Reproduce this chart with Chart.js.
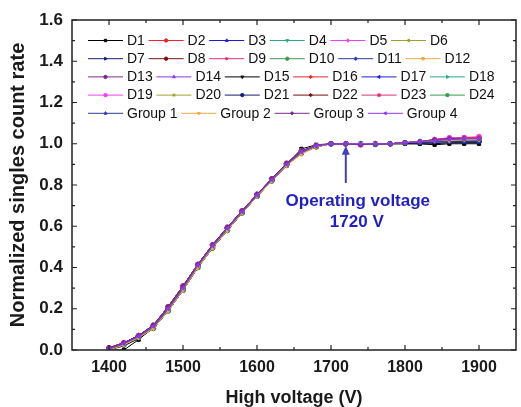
<!DOCTYPE html>
<html>
<head>
<meta charset="utf-8">
<script src="https://cdn.jsdelivr.net/npm/chart.js@4.4.0/dist/chart.umd.min.js"></script>
<style>
    html, body { margin: 0; padding: 0; background: #fff; }
    #wrap { width: 521px; height: 407px; }
</style>
</head>
<body>
<div id="wrap"><canvas id="hvChart"></canvas></div>
<script>
// High voltage steps (V)
const voltages = [1400, 1420, 1440, 1460, 1480, 1500, 1520, 1540, 1560, 1580, 1600, 1620, 1640,
                  1660, 1680, 1700, 1720, 1740, 1760, 1780, 1800, 1820, 1840, 1860, 1880, 1900];

const xTicks = [1400, 1500, 1600, 1700, 1800, 1900];
const yTicks = [0, 0.2, 0.4, 0.6, 0.8, 1.0, 1.2, 1.4, 1.6];

const seriesNames = ['D1', 'D2', 'D3', 'D4', 'D5', 'D6', 'D7', 'D8', 'D9', 'D10', 'D11', 'D12',
                     'D13', 'D14', 'D15', 'D16', 'D17', 'D18', 'D19', 'D20', 'D21', 'D22', 'D23', 'D24',
                     'Group 1', 'Group 2', 'Group 3', 'Group 4'];

// Normalized singles count rate
const d1  = [0.00, 0.00, 0.05, 0.11, 0.195, 0.30, 0.41, 0.505, 0.59, 0.67, 0.75, 0.825, 0.90, 0.975, 0.995, 1.00, 1.00, 1.00, 0.995, 1.00, 1.00, 1.00, 0.995, 1.00, 1.00, 1.00];
const d2  = [0.005, 0.03, 0.065, 0.115, 0.20, 0.30, 0.41, 0.505, 0.59, 0.67, 0.75, 0.825, 0.90, 0.96, 0.99, 1.00, 1.00, 1.00, 1.00, 1.00, 1.005, 1.01, 1.015, 1.015, 1.02, 1.02];
const d3  = [0.00, 0.025, 0.06, 0.105, 0.19, 0.29, 0.40, 0.495, 0.58, 0.665, 0.745, 0.82, 0.895, 0.955, 0.985, 1.00, 1.00, 1.00, 1.00, 1.00, 1.005, 1.005, 1.01, 1.01, 1.01, 1.01];
const d4  = [0.01, 0.035, 0.07, 0.12, 0.21, 0.31, 0.415, 0.51, 0.595, 0.675, 0.755, 0.83, 0.905, 0.965, 0.99, 1.00, 1.00, 1.00, 1.00, 1.00, 1.005, 1.01, 1.015, 1.02, 1.02, 1.02];
const d5  = [0.005, 0.03, 0.065, 0.115, 0.20, 0.30, 0.41, 0.505, 0.59, 0.67, 0.75, 0.825, 0.90, 0.96, 0.99, 1.00, 1.00, 0.995, 1.00, 1.00, 1.005, 1.01, 1.02, 1.025, 1.03, 1.03];
const d6  = [0.00, 0.025, 0.06, 0.105, 0.19, 0.29, 0.40, 0.495, 0.58, 0.665, 0.745, 0.82, 0.895, 0.955, 0.985, 1.00, 1.00, 1.00, 1.00, 1.00, 1.005, 1.01, 1.015, 1.015, 1.02, 1.02];
const d7  = [0.01, 0.035, 0.07, 0.12, 0.21, 0.31, 0.415, 0.51, 0.595, 0.675, 0.755, 0.83, 0.905, 0.965, 0.99, 1.00, 1.00, 1.00, 1.00, 1.00, 1.005, 1.005, 1.01, 1.01, 1.01, 1.01];
const d8  = [0.005, 0.03, 0.065, 0.115, 0.20, 0.30, 0.41, 0.505, 0.59, 0.67, 0.75, 0.825, 0.90, 0.96, 0.99, 1.00, 1.00, 1.00, 1.00, 1.00, 1.005, 1.01, 1.015, 1.015, 1.02, 1.02];
const d9  = [0.00, 0.025, 0.06, 0.105, 0.19, 0.29, 0.40, 0.495, 0.58, 0.665, 0.745, 0.82, 0.895, 0.955, 0.985, 1.00, 1.00, 0.995, 1.00, 1.00, 1.005, 1.01, 1.02, 1.025, 1.03, 1.03];
const d10 = [0.01, 0.035, 0.07, 0.12, 0.21, 0.31, 0.415, 0.51, 0.595, 0.675, 0.755, 0.83, 0.905, 0.965, 0.99, 1.00, 1.00, 1.00, 1.00, 1.00, 1.005, 1.01, 1.015, 1.02, 1.02, 1.02];
const d11 = [0.005, 0.03, 0.065, 0.115, 0.20, 0.30, 0.41, 0.505, 0.59, 0.67, 0.75, 0.825, 0.90, 0.96, 0.99, 1.00, 1.00, 1.00, 1.00, 1.00, 1.005, 1.005, 1.01, 1.01, 1.01, 1.01];
const d12 = [0.00, 0.025, 0.06, 0.105, 0.19, 0.29, 0.40, 0.495, 0.58, 0.665, 0.745, 0.82, 0.895, 0.95, 0.985, 1.00, 1.00, 1.00, 1.00, 1.00, 1.005, 1.01, 1.015, 1.015, 1.02, 1.02];
const d13 = [0.01, 0.035, 0.07, 0.12, 0.21, 0.31, 0.415, 0.51, 0.595, 0.675, 0.755, 0.83, 0.905, 0.965, 0.99, 1.00, 1.00, 0.995, 1.00, 1.00, 1.005, 1.01, 1.02, 1.025, 1.025, 1.03];
const d14 = [0.005, 0.03, 0.065, 0.115, 0.20, 0.30, 0.41, 0.505, 0.59, 0.67, 0.75, 0.825, 0.90, 0.96, 0.99, 1.00, 1.00, 1.00, 1.00, 1.00, 1.005, 1.01, 1.015, 1.015, 1.02, 1.02];
const d15 = [0.00, 0.02, 0.055, 0.105, 0.19, 0.29, 0.40, 0.495, 0.58, 0.665, 0.745, 0.82, 0.895, 0.96, 0.99, 1.00, 1.00, 1.00, 0.995, 1.00, 1.00, 1.00, 1.00, 1.005, 1.005, 1.005];
const d16 = [0.01, 0.035, 0.07, 0.12, 0.21, 0.31, 0.415, 0.51, 0.595, 0.675, 0.755, 0.83, 0.905, 0.965, 0.99, 1.00, 1.00, 1.00, 1.00, 1.00, 1.005, 1.01, 1.015, 1.02, 1.02, 1.02];
const d17 = [0.005, 0.03, 0.065, 0.115, 0.20, 0.30, 0.41, 0.505, 0.59, 0.67, 0.75, 0.825, 0.90, 0.96, 0.99, 1.00, 1.00, 1.00, 1.00, 1.00, 1.005, 1.005, 1.01, 1.01, 1.01, 1.015];
const d18 = [0.00, 0.025, 0.06, 0.105, 0.19, 0.29, 0.40, 0.495, 0.58, 0.665, 0.745, 0.82, 0.895, 0.955, 0.985, 1.00, 1.00, 1.00, 1.00, 1.00, 1.005, 1.01, 1.015, 1.015, 1.02, 1.02];
const d19 = [0.01, 0.035, 0.07, 0.12, 0.21, 0.31, 0.415, 0.51, 0.595, 0.675, 0.755, 0.83, 0.905, 0.965, 0.99, 1.00, 1.00, 0.995, 1.00, 1.00, 1.005, 1.01, 1.02, 1.03, 1.03, 1.035];
const d20 = [0.005, 0.03, 0.065, 0.115, 0.20, 0.30, 0.41, 0.505, 0.59, 0.67, 0.75, 0.825, 0.90, 0.955, 0.99, 1.00, 1.00, 1.00, 1.00, 1.00, 1.005, 1.01, 1.015, 1.015, 1.02, 1.02];
const d21 = [0.00, 0.025, 0.06, 0.105, 0.19, 0.29, 0.40, 0.495, 0.58, 0.665, 0.745, 0.82, 0.895, 0.955, 0.985, 1.00, 1.00, 1.00, 1.00, 1.00, 1.005, 1.005, 1.01, 1.01, 1.01, 1.01];
const d22 = [0.01, 0.035, 0.07, 0.12, 0.21, 0.31, 0.415, 0.51, 0.595, 0.675, 0.755, 0.83, 0.905, 0.965, 0.99, 1.00, 1.00, 1.00, 1.00, 1.00, 1.005, 1.01, 1.015, 1.02, 1.02, 1.02];
const d23 = [0.005, 0.03, 0.065, 0.115, 0.20, 0.30, 0.41, 0.505, 0.59, 0.67, 0.75, 0.825, 0.90, 0.96, 0.99, 1.00, 1.00, 0.995, 1.00, 1.00, 1.005, 1.01, 1.02, 1.025, 1.03, 1.03];
const d24 = [0.00, 0.025, 0.06, 0.105, 0.19, 0.29, 0.40, 0.495, 0.58, 0.665, 0.745, 0.82, 0.895, 0.955, 0.985, 1.00, 1.00, 1.00, 1.00, 1.00, 1.005, 1.01, 1.015, 1.015, 1.02, 1.02];
const g1  = [0.005, 0.03, 0.065, 0.115, 0.20, 0.30, 0.41, 0.505, 0.59, 0.67, 0.75, 0.825, 0.90, 0.96, 0.99, 1.00, 1.00, 1.00, 1.00, 1.00, 1.005, 1.005, 1.01, 1.01, 1.01, 1.01];
const g2  = [0.00, 0.025, 0.06, 0.105, 0.19, 0.29, 0.40, 0.495, 0.58, 0.665, 0.745, 0.82, 0.895, 0.95, 0.985, 1.00, 1.00, 1.00, 1.00, 1.00, 1.005, 1.01, 1.015, 1.015, 1.02, 1.02];
const g3  = [0.01, 0.035, 0.07, 0.12, 0.21, 0.31, 0.415, 0.51, 0.595, 0.675, 0.755, 0.83, 0.905, 0.965, 0.99, 1.00, 1.00, 0.995, 1.00, 1.00, 1.005, 1.01, 1.02, 1.025, 1.025, 1.025];
const g4  = [0.005, 0.03, 0.065, 0.115, 0.20, 0.30, 0.41, 0.505, 0.59, 0.67, 0.75, 0.825, 0.90, 0.96, 0.99, 1.00, 1.00, 1.00, 1.00, 1.00, 1.005, 1.01, 1.015, 1.02, 1.025, 1.025];

const seriesValues = [d1, d2, d3, d4, d5, d6, d7, d8, d9, d10, d11, d12,
                      d13, d14, d15, d16, d17, d18, d19, d20, d21, d22, d23, d24,
                      g1, g2, g3, g4];

// Origin-like colour cycle (14) and symbol cycle
const palette = ['#000000', '#e8262b', '#1c1cd8', '#2aa889', '#f03ef0', '#a0a032', '#1a1a7a',
                 '#7a1010', '#e0307a', '#3a9a50', '#2a3aa0', '#f0a848', '#7a2a8a', '#8a3ae8'];
const symbols = [
    { style: 'rect', rot: 0 }, { style: 'circle', rot: 0 }, { style: 'triangle', rot: 0 },
    { style: 'triangle', rot: 180 }, { style: 'rectRot', rot: 0 }, { style: 'triangle', rot: 270 },
    { style: 'triangle', rot: 90 }, { style: 'circle', rot: 0 }, { style: 'star', rot: 0 },
    { style: 'circle', rot: 0 }, { style: 'rectRot', rot: 0 }
];

const FONT = '"Liberation Sans", Arial, Helvetica, sans-serif';
Chart.defaults.font.family = FONT;
Chart.defaults.color = '#1a1a1a';

const datasets = seriesValues.map((vals, i) => {
    const color = palette[i % palette.length];
    const sym = symbols[i % symbols.length];
    return {
        label: seriesNames[i],
        data: vals.map((v, k) => ({ x: voltages[k], y: v })),
        borderColor: color,
        backgroundColor: color,
        borderWidth: 1,
        pointStyle: sym.style,
        pointRotation: sym.rot,
        pointRadius: 2.3,
        pointBorderWidth: 1,
        tension: 0,
        order: seriesValues.length - i   // later series on top
    };
});

// Frame with inward major/minor ticks on all four sides
const frameTicks = {
    id: 'frameTicks',
    afterDraw(chart) {
        const { ctx, chartArea: a, scales: { x, y } } = chart;
        ctx.save();
        ctx.strokeStyle = '#222';
        ctx.lineWidth = 1.5;
        ctx.strokeRect(a.left, a.top, a.right - a.left, a.bottom - a.top);
        ctx.lineWidth = 1.2;
        ctx.beginPath();
        xTicks.forEach(v => {
            const px = x.getPixelForValue(v);
            ctx.moveTo(px, a.bottom); ctx.lineTo(px, a.bottom - 5);
            ctx.moveTo(px, a.top); ctx.lineTo(px, a.top + 5);
            [v - 50, v + 50].forEach(m => {
                if (m <= x.min || m >= x.max) return;
                const pm = x.getPixelForValue(m);
                ctx.moveTo(pm, a.bottom); ctx.lineTo(pm, a.bottom - 3);
                ctx.moveTo(pm, a.top); ctx.lineTo(pm, a.top + 3);
            });
        });
        yTicks.forEach((v, i) => {
            const py = y.getPixelForValue(v);
            ctx.moveTo(a.left, py); ctx.lineTo(a.left + 5, py);
            ctx.moveTo(a.right, py); ctx.lineTo(a.right - 5, py);
            if (i < yTicks.length - 1) {
                const pm = y.getPixelForValue((v + yTicks[i + 1]) / 2);
                ctx.moveTo(a.left, pm); ctx.lineTo(a.left + 3, pm);
                ctx.moveTo(a.right, pm); ctx.lineTo(a.right - 3, pm);
            }
        });
        ctx.stroke();
        ctx.restore();
    }
};

// Legend inside the plot, five rows like the original
const legendRows = [[0, 1, 2, 3, 4, 5], [6, 7, 8, 9, 10, 11], [12, 13, 14, 15, 16, 17],
                    [18, 19, 20, 21, 22, 23], [24, 25, 26, 27]];
const insideLegend = {
    id: 'insideLegend',
    afterDraw(chart) {
        const { ctx, chartArea: a } = chart;
        ctx.save();
        ctx.font = '14px ' + FONT;
        ctx.textBaseline = 'middle';
        ctx.textAlign = 'left';
        legendRows.forEach((row, r) => {
            let lx = a.left + 16;
            const ly = a.top + 20.5 + r * 18.2;
            row.forEach(i => {
                const ds = datasets[i];
                ctx.strokeStyle = ds.borderColor;
                ctx.lineWidth = 1;
                ctx.beginPath();
                ctx.moveTo(lx, ly); ctx.lineTo(lx + 35, ly);
                ctx.stroke();
                ctx.fillStyle = ds.backgroundColor;
                Chart.helpers.drawPoint(ctx, {
                    pointStyle: ds.pointStyle, rotation: ds.pointRotation,
                    radius: 1.7, borderWidth: 1
                }, lx + 17.5, ly);
                ctx.fillStyle = '#111';
                ctx.fillText(ds.label, lx + 39, ly + 0.5);
                lx += 39 + ctx.measureText(ds.label).width + 3.7;
            });
        });
        ctx.restore();
    }
};

// Operating voltage arrow and note
const opVoltage = 1720;
const annotation = {
    id: 'annotation',
    afterDraw(chart) {
        const { ctx, scales: { x, y } } = chart;
        const ax = x.getPixelForValue(opVoltage);
        const yHead = y.getPixelForValue(0.99);
        const yTail = y.getPixelForValue(0.81);
        ctx.save();
        ctx.strokeStyle = '#4040b8';
        ctx.fillStyle = '#4040b8';
        ctx.lineWidth = 2;
        ctx.beginPath();
        ctx.moveTo(ax, yTail); ctx.lineTo(ax, yHead + 6);
        ctx.stroke();
        ctx.beginPath();
        ctx.moveTo(ax, yHead); ctx.lineTo(ax - 4, yHead + 9); ctx.lineTo(ax + 4, yHead + 9);
        ctx.closePath(); ctx.fill();
        ctx.fillStyle = '#1f1fc4';
        ctx.font = 'bold 17px ' + FONT;
        ctx.textAlign = 'center';
        ctx.textBaseline = 'middle';
        ctx.fillText('Operating voltage', ax + 12, yTail + 18);
        ctx.fillText('1720 V', ax + 11, yTail + 39);
        ctx.restore();
    }
};

new Chart(document.getElementById('hvChart'), {
    type: 'line',
    data: { datasets },
    options: {
        responsive: true,
        maintainAspectRatio: false,
        animation: false,
        layout: { padding: { top: 20, right: 1, left: 0, bottom: 0 } },
        plugins: { legend: { display: false }, tooltip: { enabled: false } },
        scales: {
            x: {
                type: 'linear', min: 1350, max: 1950,
                grid: { display: false },
                border: { display: false },
                afterBuildTicks: s => { s.ticks = xTicks.map(v => ({ value: v })); },
                afterFit: s => { s.height = 57; },
                ticks: { padding: 0, color: '#1a1a1a', font: { size: 16, weight: 'bold' }, maxRotation: 0,
                         callback: v => String(v) },
                title: { display: true, text: 'High voltage (V)', color: '#1a1a1a',
                         font: { size: 18, weight: 'bold', lineHeight: 1 }, padding: 0 }
            },
            y: {
                min: 0, max: 1.6,
                grid: { display: false },
                border: { display: false },
                afterBuildTicks: s => { s.ticks = yTicks.map(v => ({ value: v })); },
                afterFit: s => { s.width = 72; },
                ticks: { padding: 1, color: '#1a1a1a', font: { size: 17, weight: 'bold' },
                         callback: v => v.toFixed(1) },
                title: { display: true, text: 'Normalized singles count rate', color: '#1a1a1a',
                         font: { size: 20, weight: 'bold', lineHeight: 1 }, padding: { top: 8 } }
            }
        }
    },
    plugins: [frameTicks, insideLegend, annotation]
});
</script>
</body>
</html>
